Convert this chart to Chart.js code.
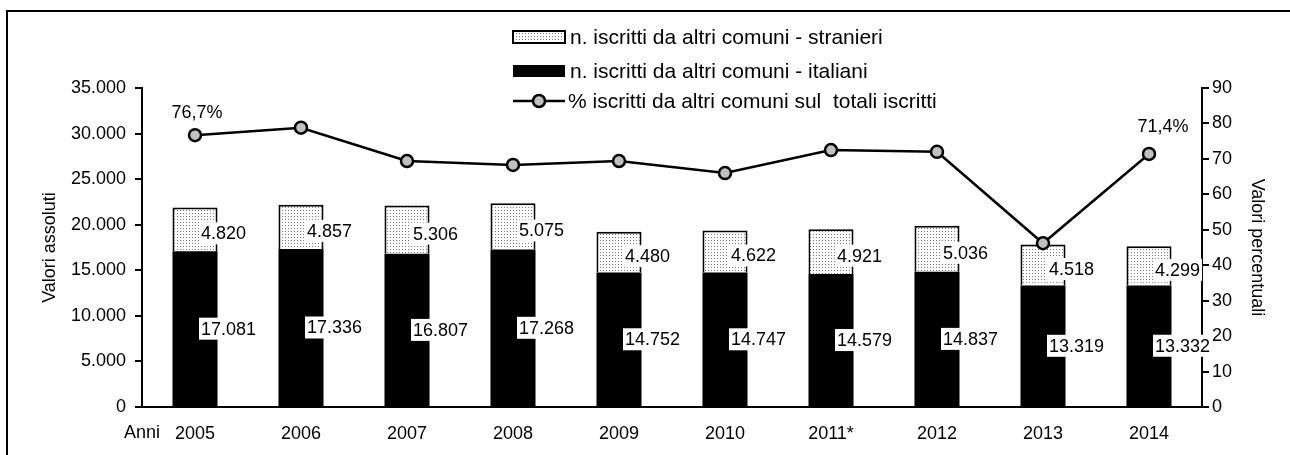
<!DOCTYPE html>
<html><head><meta charset="utf-8">
<script src="https://cdn.jsdelivr.net/npm/chart.js@4.4.1/dist/chart.umd.min.js"></script>
<style>html,body{margin:0;padding:0;background:#fff}#c{display:block}</style>
</head><body>
<canvas id="c" width="1290" height="455"></canvas>
<script>
const categories = ['2005','2006','2007','2008','2009','2010','2011*','2012','2013','2014'];
const italiani = [17081, 17336, 16807, 17268, 14752, 14747, 14579, 14837, 13319, 13332];
const stranieri = [4820, 4857, 5306, 5075, 4480, 4622, 4921, 5036, 4518, 4299];
const percentuali = [76.7, 78.8, 69.4, 68.3, 69.4, 66.0, 72.5, 72.0, 46.2, 71.4];
const pctLabels = ['76,7%','','','','','','','','','71,4%'];
const seriesNames = ['n. iscritti da altri comuni - stranieri','n. iscritti da altri comuni - italiani','% iscritti da altri comuni sul  totali iscritti'];
const leftTitle = 'Valori assoluti';
const rightTitle = 'Valori percentuali';
const xTitle = 'Anni';

const FONT = "'Liberation Sans', Arial, sans-serif";
const fmt = v => String(v).replace(/\B(?=(\d{3})+(?!\d))/g, '.');

const canvas = document.getElementById('c');
const ctx = canvas.getContext('2d');
const tile = document.createElement('canvas');
tile.width = 3; tile.height = 3;
const tg = tile.getContext('2d');
tg.fillStyle = '#fff'; tg.fillRect(0,0,3,3);
tg.fillStyle = '#7a7a7a'; tg.fillRect(0,0,1,1);
const dots = ctx.createPattern(tile, 'repeat');

const extras = {
  id: 'extras',
  afterDatasetsDraw(chart) {
    const c = chart.ctx;
    c.save();
    c.font = '18px ' + FONT;
    c.textBaseline = 'middle';
    c.textAlign = 'left';
    [1, 2].forEach((di) => {
      const meta = chart.getDatasetMeta(di);
      const vals = chart.data.datasets[di].data;
      meta.data.forEach((el, i) => {
        const txt = fmt(vals[i]);
        const w = c.measureText(txt).width;
        const x = el.x + 6;
        const y = (el.y + el.base) / 2 + (di === 2 ? 4 : 0);
        c.fillStyle = '#fff';
        c.fillRect(x - 2, y - 11, w + 4, 22);
        c.fillStyle = '#000';
        c.fillText(txt, x, y + 1);
      });
    });
    const lm = chart.getDatasetMeta(0);
    const offs = {0: [2, -22], 9: [14, -27]};
    c.textAlign = 'center';
    lm.data.forEach((pt, i) => {
      if (!pctLabels[i]) return;
      const o = offs[i] || [0, -22];
      c.fillStyle = '#000';
      c.fillText(pctLabels[i], pt.x + o[0], pt.y + o[1]);
    });
    c.restore();
  },
  afterDraw(chart) {
    const c = chart.ctx;
    const ca = chart.chartArea;
    c.save();
    c.font = '18px ' + FONT;
    c.fillStyle = '#000';
    c.textAlign = 'center';
    c.textBaseline = 'middle';
    c.fillText(xTitle, ca.left, 433);
    c.font = '21px ' + FONT;
    c.textAlign = 'left';
    const lx = 513, lw = 52, tx = 570;
    c.fillStyle = dots;
    c.fillRect(lx, 31, lw, 12);
    c.strokeStyle = '#000'; c.lineWidth = 2;
    c.strokeRect(lx, 31, lw, 12);
    c.fillStyle = '#000';
    c.fillText(seriesNames[0], tx, 38);
    c.fillRect(lx, 65, lw, 12);
    c.fillText(seriesNames[1], tx, 72);
    c.beginPath(); c.lineWidth = 2.5;
    c.moveTo(lx, 101); c.lineTo(lx + lw, 101); c.stroke();
    c.beginPath(); c.arc(lx + lw / 2, 101, 6, 0, Math.PI * 2);
    c.fillStyle = '#c0c0c0'; c.fill(); c.stroke();
    c.fillStyle = '#000';
    c.fillText(seriesNames[2], 568, 102);
    c.beginPath(); c.lineWidth = 2;
    c.moveTo(7, 455); c.lineTo(7, 11); c.lineTo(1290, 11);
    c.stroke();
    c.restore();
  }
};

const tickFont = {family: FONT, size: 18};

new Chart(ctx, {
  type: 'bar',
  data: {
    labels: categories,
    datasets: [
      {type: 'line', label: seriesNames[2], data: percentuali, yAxisID: 'y1', borderColor: '#000', borderWidth: 2.5,
       pointRadius: 6, pointHoverRadius: 6, pointBackgroundColor: '#c0c0c0', pointBorderColor: '#000', pointBorderWidth: 2.5,
       tension: 0, order: 0},
      {label: seriesNames[1], data: italiani, yAxisID: 'y', backgroundColor: '#000', borderWidth: 0, stack: 's', order: 1},
      {label: seriesNames[0], data: stranieri, yAxisID: 'y', backgroundColor: dots, borderColor: '#000', borderWidth: 2,
       borderSkipped: 'bottom', stack: 's', order: 1}
    ]
  },
  options: {
    responsive: false,
    animation: false,
    devicePixelRatio: 1,
    layout: {padding: {top: 88, bottom: 12, left: 0, right: 0}},
    plugins: {legend: {display: false}, tooltip: {enabled: false}},
    datasets: {bar: {categoryPercentage: 1, barPercentage: 0.425}},
    scales: {
      x: {
        stacked: true,
        grid: {display: false, drawTicks: false},
        border: {display: true, color: '#000', width: 2},
        ticks: {color: '#000', font: tickFont, padding: 16, maxRotation: 0, autoSkip: false},
        afterFit(s) { s.height = 36; }
      },
      y: {
        position: 'left', stacked: true, min: 0, max: 35000,
        ticks: {stepSize: 5000, color: '#000', font: tickFont, padding: 9, callback: v => fmt(v)},
        grid: {drawOnChartArea: false, drawTicks: true, tickLength: 7, color: '#000', lineWidth: 2},
        border: {color: '#000', width: 2},
        title: {display: true, text: leftTitle, color: '#000', font: tickFont, padding: {top: 39, bottom: 0}},
        afterFit(s) { s.width = 142; }
      },
      y1: {
        position: 'right', min: 0, max: 90,
        ticks: {stepSize: 10, color: '#000', font: tickFont, padding: 3},
        grid: {drawOnChartArea: false, drawTicks: true, tickLength: 7, color: '#000', lineWidth: 2},
        border: {color: '#000', width: 2},
        title: {display: true, text: rightTitle, color: '#000', font: tickFont, padding: {top: 22, bottom: 0}},
        afterFit(s) { s.width = 88; }
      }
    }
  },
  plugins: [extras]
});
</script>
</body></html>
